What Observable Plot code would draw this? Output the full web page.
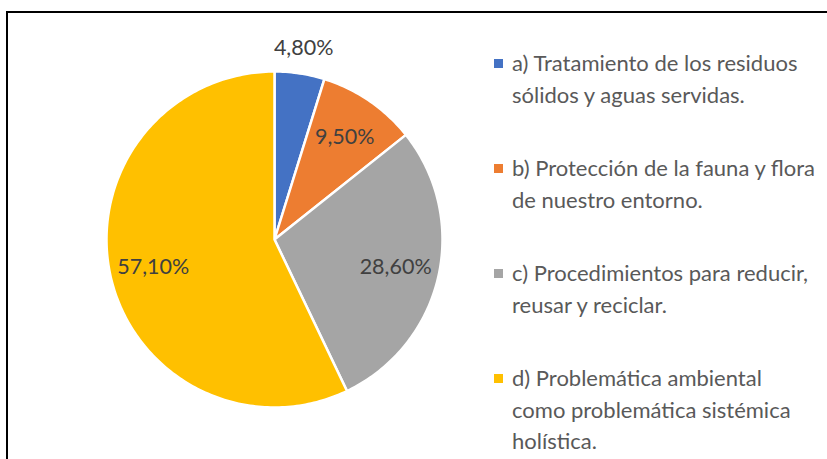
<!DOCTYPE html>
<html>
<head>
<meta charset="utf-8">
<script src="https://cdn.jsdelivr.net/npm/d3@7"></script>
<script src="https://cdn.jsdelivr.net/npm/@observablehq/plot@0.6"></script>
<style>
  html, body { margin: 0; padding: 0; background: #fff; overflow: hidden; }
  #wrap { position: relative; width: 827px; height: 459px; overflow: hidden; font-family: Lato, "Open Sans", sans-serif; }
  #frame { position: absolute; left: 6px; top: 11px; width: 830px; height: 470px; border-left: 2px solid #000; border-top: 2px solid #000; box-sizing: border-box; }
  #chart { position: absolute; left: 0; top: 0; }
  #legend { position: absolute; left: 0; top: 0; }
  .item { position: absolute; left: 512px; font-size: 22px; line-height: 31.5px; color: #595959; white-space: pre; }
  .sw { position: absolute; width: 9px; height: 9px; }
</style>
</head>
<body>
<div id="wrap"><div id="frame"></div><div id="chart"></div><div id="legend"></div></div>
<script>
const categories = [
  "a) Tratamiento de los residuos\nsólidos y aguas servidas.",
  "b) Protección de la fauna y flora\nde nuestro entorno.",
  "c) Procedimientos para reducir,\nreusar y reciclar.",
  "d) Problemática ambiental\ncomo problemática sistémica\nholística."
];
const shares = [4.8, 9.5, 28.6, 57.1];
const valueLabels = ["4,80%", "9,50%", "28,60%", "57,10%"];
const colors = ["#4472C4", "#ED7D31", "#A5A5A5", "#FFC000"];

const arcs = d3.pie().sort(null).value(d => d)(shares);

// polygon points for each slice (center + arc samples)
const points = [];
arcs.forEach((a, i) => {
  points.push({key: i, x: 0, y: 0, color: colors[i]});
  const n = Math.max(2, Math.ceil((a.endAngle - a.startAngle) / (Math.PI / 180)));
  for (let k = 0; k <= n; k++) {
    const t = a.startAngle + (a.endAngle - a.startAngle) * k / n;
    points.push({key: i, x: Math.sin(t), y: Math.cos(t), color: colors[i]});
  }
});

const labelData = arcs.map((a, i) => {
  const mid = (a.startAngle + a.endAngle) / 2;
  const r = shares[i] < 5 ? 1.155 : 0.74;
  return {x: r * Math.sin(mid), y: r * Math.cos(mid), text: valueLabels[i]};
});

const plot = Plot.plot({
  width: 470,
  height: 459,
  margin: 0,
  x: {domain: [-1, 1], range: [106, 442], axis: null},
  y: {domain: [-1, 1], range: [407, 71], axis: null},
  color: {type: "identity"},
  style: {background: "transparent"},
  marks: [
    Plot.line(points, {x: "x", y: "y", z: "key", fill: "color", stroke: "white", strokeWidth: 2.5, strokeLinejoin: "round", curve: "linear-closed"}),
    Plot.text(labelData, {x: "x", y: "y", text: "text", fill: "#404040", fontSize: 21.5, fontFamily: "Lato, 'Open Sans', sans-serif"})
  ]
});
document.getElementById("chart").appendChild(plot);

const legend = document.getElementById("legend");
categories.forEach((c, i) => {
  const lineCenter = 63 + i * 105;
  const it = document.createElement("div");
  it.className = "item";
  it.style.top = (lineCenter - 15.75) + "px";
  it.textContent = c;
  legend.appendChild(it);
  const sw = document.createElement("div");
  sw.className = "sw";
  sw.style.left = "494px";
  sw.style.top = (lineCenter - 4.5) + "px";
  sw.style.background = colors[i];
  legend.appendChild(sw);
});
</script>
</body>
</html>
